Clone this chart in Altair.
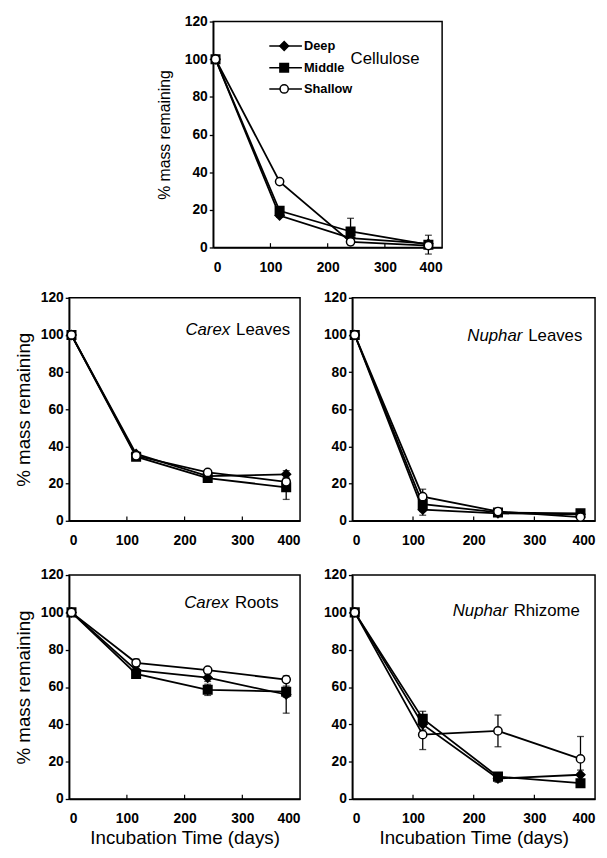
import altair as alt
import pandas as pd

days = [4, 116, 240, 376]
series_names = ["Deep", "Middle", "Shallow"]
x_ticks = [100, 200, 300]
x_labels = [0, 100, 200, 300, 400]
y_labels = [0, 20, 40, 60, 80, 100, 120]

# Cellulose
cel_deep = [100, 17, 5, 2]
cel_middle = [100, 19.5, 8.5, 1.5]
cel_shallow = [100, 35, 3, 1]
cel_deep_err = [0, 1, 1, 1]
cel_middle_err = [0, 1.5, 7, 5]
cel_shallow_err = [0, 1, 1, 1]

# Carex leaves
cl_deep = [100, 36, 24, 25]
cl_middle = [100, 34.5, 23, 18]
cl_shallow = [100, 35, 26, 21]
cl_deep_err = [0, 1, 1.5, 2]
cl_middle_err = [0, 1, 1.5, 6.5]
cl_shallow_err = [0, 1, 1, 2]

# Nuphar leaves
nl_deep = [100, 6, 4, 3.5]
nl_middle = [100, 9, 4.5, 4]
nl_shallow = [100, 13, 5, 2]
nl_deep_err = [0, 3, 1, 1]
nl_middle_err = [0, 4, 1, 1]
nl_shallow_err = [0, 4, 1, 1]

# Carex roots
cr_deep = [100, 69, 65, 56]
cr_middle = [100, 67, 58.5, 57.5]
cr_shallow = [100, 73, 69, 64]
cr_deep_err = [0, 2, 2, 10]
cr_middle_err = [0, 1.5, 3, 3]
cr_shallow_err = [0, 2, 1, 1]

# Nuphar rhizome
nr_deep = [100, 40, 11, 13]
nr_middle = [100, 43, 12, 8.5]
nr_shallow = [100, 34.5, 36.5, 21.5]
nr_deep_err = [0, 3, 2, 2.5]
nr_middle_err = [0, 4, 2, 1.5]
nr_shallow_err = [0, 8, 8.5, 12]

# panel labels: genus (italic), rest, anchor x (days), y (%)
label_genus = ["", "Carex", "Nuphar", "Carex", "Nuphar"]
label_rest = ["Cellulose", "Leaves", "Leaves", "Roots", "Rhizome"]
label_x = [240, 284, 285, 282, 261]
label_y = [100, 102.5, 99.6, 105, 100.7]

# legend rows (top panel)
legend_y = [107, 95.5, 84.2]

FONT = "Liberation Sans"
shape_scale = alt.Scale(domain=series_names, range=["diamond", "square", "circle"])
fill_scale = alt.Scale(domain=series_names, range=["black", "black", "white"])
size_scale = alt.Scale(domain=series_names, range=[80, 70, 55])
XS = alt.Scale(domain=[0, 400], nice=False, zero=False)
YS = alt.Scale(domain=[0, 120], nice=False, zero=False)


def long_df(vals, errs):
    rows = []
    for s, v, e in zip(series_names, vals, errs):
        for d, y, err in zip(days, v, e):
            rows.append({"day": d, "value": y, "series": s, "err": err,
                         "lo": y - err, "hi": y + err})
    return pd.DataFrame(rows)


def panel(vals, errs, idx, w, h, ytitle, xtitle, ytitle_size, tpad=7, legend=False):
    df = long_df(vals, errs)
    x_axis = alt.Axis(values=x_labels, tickSize=0, labelPadding=13,
                      labelOverlap=False,
                      title="Incubation Time (days)" if xtitle else "",
                      titleFontSize=19, titlePadding=3)
    y_axis = alt.Axis(values=y_labels, tickSize=4, labelPadding=2,
                      labelOverlap=False, tickCount=7,
                      title="% mass remaining" if ytitle else "",
                      titleFontSize=ytitle_size, titlePadding=tpad)
    X = lambda f: alt.X(f, scale=XS, axis=x_axis)
    Y = lambda f: alt.Y(f, scale=YS, axis=y_axis)
    base = alt.Chart(df)
    lines = base.mark_line(color="black", strokeWidth=1.8).encode(
        x=X("day:Q"), y=Y("value:Q"), detail="series:N", order="day:Q")
    edf = df[df["err"] > 0]
    eb = alt.Chart(edf)
    rules = eb.mark_rule(color="black", strokeWidth=1.3).encode(
        x=X("day:Q"), y=Y("lo:Q"), y2="hi:Q")
    cap_hi = eb.mark_tick(orient="horizontal", size=7, thickness=1.3,
                          color="black").encode(x=X("day:Q"), y=Y("hi:Q"))
    cap_lo = eb.mark_tick(orient="horizontal", size=7, thickness=1.3,
                          color="black").encode(x=X("day:Q"), y=Y("lo:Q"))
    pts = base.mark_point(filled=True, stroke="black", strokeWidth=1.5,
                          opacity=1).encode(
        x=X("day:Q"), y=Y("value:Q"),
        shape=alt.Shape("series:N", scale=shape_scale, legend=None),
        fill=alt.Fill("series:N", scale=fill_scale, legend=None),
        size=alt.Size("series:N", scale=size_scale, legend=None))
    tdf = pd.DataFrame({"t": x_ticks, "b": [0] * len(x_ticks),
                        "e": [2.3] * len(x_ticks)})
    ticks = alt.Chart(tdf).mark_rule(color="black", strokeWidth=1.2).encode(
        x=X("t:Q"), y=Y("b:Q"), y2="e:Q")
    lab = pd.DataFrame({"g": [label_genus[idx]], "r": [label_rest[idx]],
                        "lx": [label_x[idx]], "ly": [label_y[idx]]})
    layers = [lines, ticks, rules, cap_hi, cap_lo, pts]
    if label_genus[idx]:
        layers.append(alt.Chart(lab).mark_text(
            align="right", baseline="middle", font=FONT, fontSize=17,
            fontStyle="italic", color="black", dx=-3).encode(
            x=X("lx:Q"), y=Y("ly:Q"), text="g:N"))
        layers.append(alt.Chart(lab).mark_text(
            align="left", baseline="middle", font=FONT, fontSize=17,
            color="black", dx=3).encode(x=X("lx:Q"), y=Y("ly:Q"), text="r:N"))
    else:
        layers.append(alt.Chart(lab).mark_text(
            align="left", baseline="middle", font=FONT, fontSize=17,
            color="black").encode(x=X("lx:Q"), y=Y("ly:Q"), text="r:N"))
    if legend:
        ldf = pd.DataFrame({"series": series_names, "ly": legend_y,
                            "x0": [98] * 3, "x1": [155] * 3, "xm": [124] * 3})
        lb = alt.Chart(ldf)
        layers.append(lb.mark_rule(color="black", strokeWidth=1.6).encode(
            x=X("x0:Q"), x2="x1:Q", y=Y("ly:Q")))
        layers.append(lb.mark_point(filled=True, stroke="black", strokeWidth=1.5,
                                    opacity=1).encode(
            x=X("xm:Q"), y=Y("ly:Q"),
            shape=alt.Shape("series:N", scale=shape_scale, legend=None),
            fill=alt.Fill("series:N", scale=fill_scale, legend=None),
            size=alt.Size("series:N", scale=size_scale, legend=None)))
        layers.append(lb.mark_text(align="left", baseline="middle", font=FONT,
                                   fontSize=13, fontWeight="bold",
                                   color="black", dx=2).encode(
            x=X("x1:Q"), y=Y("ly:Q"), text="series:N"))
    return alt.layer(*layers).properties(width=w, height=h)


top = panel([cel_deep, cel_middle, cel_shallow],
            [cel_deep_err, cel_middle_err, cel_shallow_err], 0, 232, 229,
            True, False, 16, tpad=12, legend=True)
ml = panel([cl_deep, cl_middle, cl_shallow],
           [cl_deep_err, cl_middle_err, cl_shallow_err], 1, 234, 226,
           True, False, 19)
mr = panel([nl_deep, nl_middle, nl_shallow],
           [nl_deep_err, nl_middle_err, nl_shallow_err], 2, 246, 226,
           False, False, 19)
bl = panel([cr_deep, cr_middle, cr_shallow],
           [cr_deep_err, cr_middle_err, cr_shallow_err], 3, 234, 227,
           True, True, 19)
br = panel([nr_deep, nr_middle, nr_shallow],
           [nr_deep_err, nr_middle_err, nr_shallow_err], 4, 246, 227,
           False, True, 19)

spacer = alt.Chart(pd.DataFrame({"a": [0]})).mark_text(text="").encode(
    x=alt.value(0)).properties(width=86, height=1,
                               view=alt.ViewBackground(stroke="transparent"))

row0 = alt.hconcat(spacer, top, spacing=0)
row1 = alt.hconcat(ml, mr, spacing=20)
row2 = alt.hconcat(bl, br, spacing=20)
lower = alt.vconcat(row1, row2, spacing=19)
chart = alt.vconcat(row0, lower, spacing=15).properties(
    padding={"left": 5, "top": 0, "right": 2, "bottom": 0}
).configure_view(stroke="black", strokeWidth=1.5).configure_axis(
    domainColor="black", domainWidth=1.5, tickColor="black", tickWidth=1.3,
    grid=False, labelFont=FONT, labelFontSize=14, labelFontWeight="bold",
    labelColor="black", titleFont=FONT, titleFontWeight="normal",
    titleColor="black", labelOverlap=False
)

chart.save("out.html", embed_options={"renderer": "svg", "actions": False})
